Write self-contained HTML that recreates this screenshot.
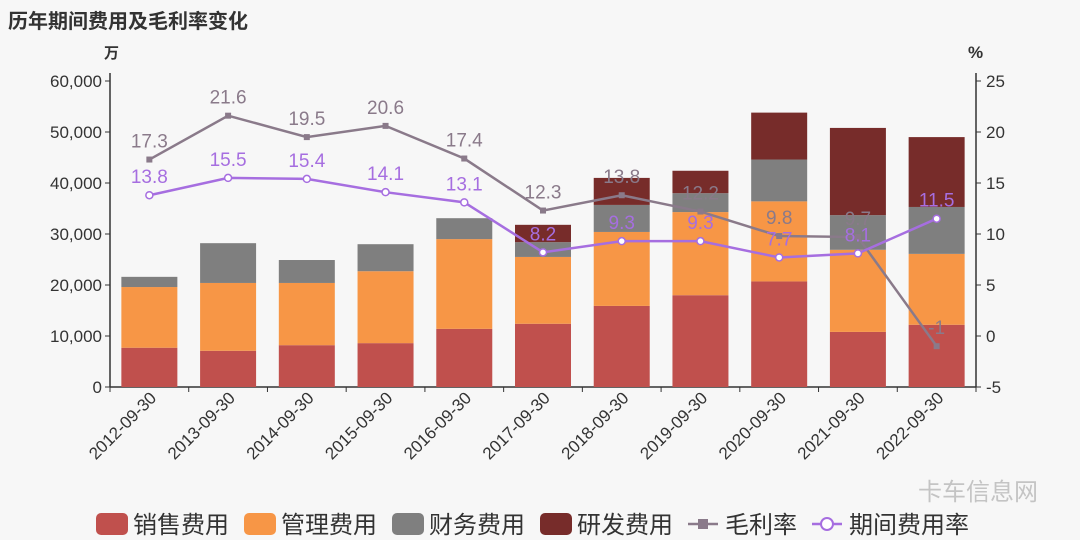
<!DOCTYPE html>
<html><head><meta charset="utf-8"><style>
body{margin:0;background:#f7f7f7;}
svg{display:block;font-family:"Liberation Sans","Noto Sans CJK SC",sans-serif;}
</style></head><body>
<svg id="c" width="1080" height="540">
<text x="8" y="28" font-size="20" font-weight="bold" fill="#333">历年期间费用及毛利率变化</text>
<text x="104" y="58" font-size="15" font-weight="bold" fill="#333">万</text>
<text x="968" y="58" font-size="17" font-weight="bold" fill="#333">%</text>
<text x="918" y="500" font-size="24" fill="#c4c4c4">卡车信息网</text>
</svg>
<script>
const categories=["2012-09-30","2013-09-30","2014-09-30","2015-09-30","2016-09-30","2017-09-30","2018-09-30","2019-09-30","2020-09-30","2021-09-30","2022-09-30"];
const sales=[7700,7100,8200,8600,11400,12400,15900,18000,20700,10800,12200];
const mgmt=[11900,13300,12200,14100,17600,13100,14500,16300,15700,16100,13900];
const fin=[2000,7800,4500,5300,4100,2900,5300,3700,8200,6800,9200];
const rd=[0,0,0,0,0,3400,5300,4400,9200,17100,13700];
const gross=[17.3,21.6,19.5,20.6,17.4,12.3,13.8,12.2,9.8,9.7,-1];
const rate=[13.8,15.5,15.4,14.1,13.1,8.2,9.3,9.3,7.7,8.1,11.5];
const leftTicks=[0,10000,20000,30000,40000,50000,60000];
const rightTicks=[-5,0,5,10,15,20,25];
const svg=document.getElementById('c');const NS="http://www.w3.org/2000/svg";
const X0=110,X1=976,Y0=387,Y1=81;
const bw=(X1-X0)/categories.length;
const yL=v=>Y0-(v/60000)*(Y0-Y1);
const yR=v=>Y0-((v+5)/30)*(Y0-Y1);
const xc=i=>X0+bw*(i+0.5);
function el(t,a,txt){const e=document.createElementNS(NS,t);for(const k in a)e.setAttribute(k,a[k]);if(txt!==undefined)e.textContent=txt;svg.appendChild(e);return e;}
let e=el('line',{x1:X0,y1:Y1-8,x2:X0,y2:Y0,stroke:'#333','stroke-width':1.5});

e=el('line',{x1:X1,y1:Y1-8,x2:X1,y2:Y0,stroke:'#333','stroke-width':1.5});

e=el('line',{x1:X0,y1:Y0,x2:X1,y2:Y0,stroke:'#333','stroke-width':1.5});

leftTicks.forEach(v=>{el('line',{x1:X0-5,x2:X0,y1:yL(v),y2:yL(v),stroke:'#333'});
 e=el('text',{x:X0-8,y:yL(v)+6,'text-anchor':'end','font-size':17,fill:'#333'},v.toLocaleString('en-US'));
 });
rightTicks.forEach(v=>{el('line',{x1:X1,x2:X1+5,y1:yR(v),y2:yR(v),stroke:'#333'});
 e=el('text',{x:X1+10,y:yR(v)+6,'font-size':17,fill:'#333'},v);
 });
categories.forEach((c,i)=>{el('line',{x1:X0+bw*i,x2:X0+bw*i,y1:Y0,y2:Y0+5,stroke:'#333'});
 const x=xc(i)+8,y=Y0+12;
 e=el('text',{x:x,y:y,'text-anchor':'end','font-size':17,fill:'#333',transform:`rotate(-45 ${x} ${y})`},c);
 });
el('line',{x1:X1,x2:X1,y1:Y0,y2:Y0+5,stroke:'#333'});
const series=[[sales,'#c0504d','bar-sales'],[mgmt,'#f79646','bar-mgmt'],[fin,'#7f7f7f','bar-finance'],[rd,'#772c2a','bar-rd']];
categories.forEach((c,i)=>{let acc=0;series.forEach(([arr,col,nm])=>{const v=arr[i];if(v<=0)return;
 const t=yL(acc+v),b=yL(acc);acc+=v;
 e=el('rect',{x:xc(i)-28,y:t,width:56,height:b-t,fill:col});
 });});
function line(arr,col,nm,fillPt){
 e=el('polyline',{points:arr.map((v,i)=>xc(i)+','+yR(v)).join(' '),fill:'none',stroke:col,'stroke-width':2.5});
 
 arr.forEach((v,i)=>{
  if(fillPt){e=el('rect',{x:xc(i)-3,y:yR(v)-3,width:6,height:6,fill:col});}
  else{e=el('circle',{cx:xc(i),cy:yR(v),r:3.5,fill:'#fff',stroke:col,'stroke-width':1.5});}
  
  e=el('text',{x:xc(i),y:yR(v)-12,'text-anchor':'middle','font-size':19,fill:col},v);
  });}
line(gross,'#8a7a8a','gross-margin',true);
line(rate,'#a66ee0','expense-rate',false);
const leg=[['rect','#c0504d','销售费用'],['rect','#f79646','管理费用'],['rect','#7f7f7f','财务费用'],['rect','#772c2a','研发费用'],['sq','#8a7a8a','毛利率'],['circ','#a66ee0','期间费用率']];
let lx=96;const ly=524;
leg.forEach(([k,col,t])=>{const g=document.createElementNS(NS,'g');svg.appendChild(g);
 
 const add=(tag,a,txt)=>{const n=document.createElementNS(NS,tag);for(const q in a)n.setAttribute(q,a[q]);if(txt)n.textContent=txt;g.appendChild(n);};
 if(k==='rect'){add('rect',{x:lx,y:ly-11,width:32,height:22,rx:5,fill:col});}
 else{add('line',{x1:lx,x2:lx+30,y1:ly,y2:ly,stroke:col,'stroke-width':2.5});
  if(k==='sq')add('rect',{x:lx+10,y:ly-5,width:10,height:10,fill:col});
  else add('circle',{cx:lx+15,cy:ly,r:6,fill:'#fff',stroke:col,'stroke-width':2});}
 add('text',{x:lx+37,y:ly+9,'font-size':24,fill:'#333'},t);
 lx+=37+t.length*24+15;});
</script>
</body></html>
